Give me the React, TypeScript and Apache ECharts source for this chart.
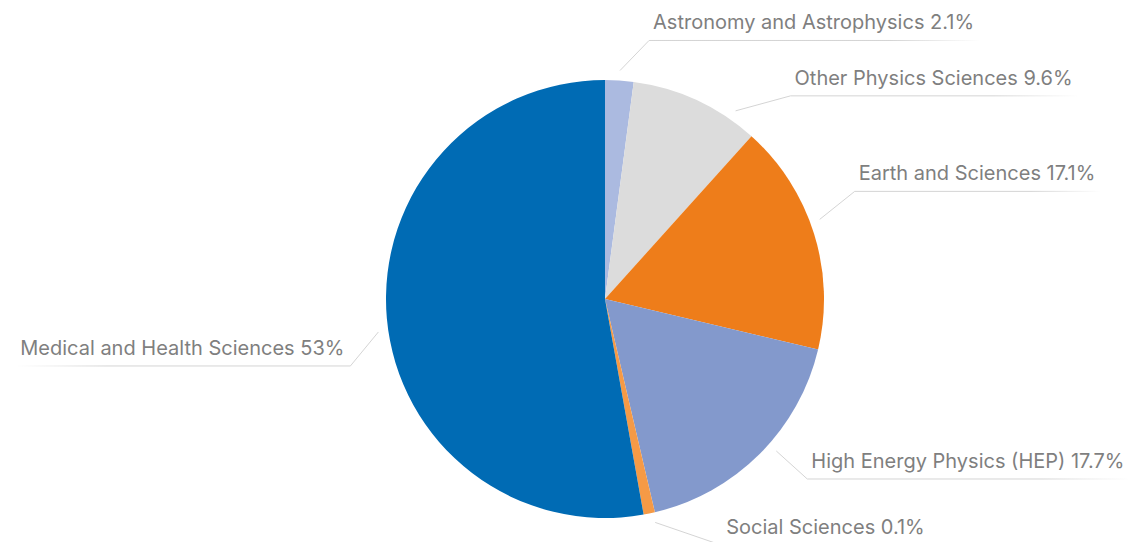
import React, { useEffect, useRef } from "react";
import * as echarts from "echarts";

const categories = [
  "Astronomy and Astrophysics",
  "Other Physics Sciences",
  "Earth and Sciences",
  "High Energy Physics (HEP)",
  "Social Sciences",
  "Medical and Health Sciences",
];
const values = [2.1, 9.6, 17.1, 17.7, 0.1, 53];
const colors = ["#abbae0", "#dcdcdc", "#ee7d1a", "#8399cc", "#f59a46", "#006bb4"];

// leader-line styling: angle shift (deg) of the start point, and bend offset to the corner
const leaders = [
  { shift: 0, dx: 29, dy: -30 },
  { shift: 10, dx: 55, dy: -15 },
  { shift: -3, dx: 35, dy: -28 },
  { shift: -3.5, dx: 31, dy: 28 },
  { shift: -1, dx: 67, dy: 23 },
  { shift: -3.2, dx: -28, dy: 34 },
];

const CX = 605;
const CY = 299;
const R = 219;
const GAP = 10;
const VIEW_LEFT = -200;
const VIEW_TOP = -100;

function lineGradient(right: boolean) {
  const c = "#d4d4d4";
  const t = "rgba(212,212,212,0)";
  return new echarts.graphic.LinearGradient(0, 0, 1, 0, right
    ? [{ offset: 0, color: c }, { offset: 0.75, color: c }, { offset: 1, color: t }]
    : [{ offset: 0, color: t }, { offset: 0.25, color: c }, { offset: 1, color: c }]);
}

export default function App() {
  const ref = useRef<HTMLDivElement>(null);
  useEffect(() => {
    if (!ref.current) return;
    const chart = echarts.init(ref.current, undefined, { renderer: "svg" });
    const data = categories.map((name, i) => ({
      name,
      value: values[i],
      itemStyle: { color: colors[i] },
      labelLine: { lineStyle: { color: lineGradient(leaders[i].dx >= 0), width: 1 } },
    }));
    chart.setOption({
      animation: false,
      backgroundColor: "#ffffff",
      series: [
        {
          type: "pie",
          left: VIEW_LEFT,
          top: VIEW_TOP,
          width: 1528,
          height: 742,
          center: [CX - VIEW_LEFT, CY - VIEW_TOP],
          radius: R,
          startAngle: 90,
          clockwise: true,
          minAngle: 3,
          avoidLabelOverlap: false,
          data,
          label: {
            show: true,
            formatter: "{b} {c}%",
            color: "#7f7f7f",
            fontFamily: "Inter",
            fontSize: 20,
            fontWeight: 400,
            overflow: "none",
          },
          labelLine: { show: true, length: 15, length2: 15 },
          labelLayout: (params: any) => {
            const i = params.dataIndex;
            const b = leaders[i];
            const p0 = params.labelLinePoints[0];
            const a0 = Math.atan2(p0[0] - CX, -(p0[1] - CY));
            const a = a0 + (b.shift * Math.PI) / 180;
            const sx = CX + (R + GAP) * Math.sin(a);
            const sy = CY - (R + GAP) * Math.cos(a);
            const kx = sx + b.dx;
            const ky = sy + b.dy;
            const w = params.labelRect.width;
            const right = b.dx >= 0;
            const ex = right ? kx + w + 10 : kx - w - 10;
            return {
              x: right ? kx + 4 : kx - 6,
              y: ky - 8,
              align: right ? "left" : "right",
              verticalAlign: "bottom",
              labelLinePoints: [
                [sx, sy],
                [kx, ky],
                [ex, ky],
              ],
            };
          },
        },
      ],
    });
    return () => chart.dispose();
  }, []);
  return (
    <div
      ref={ref}
      style={{ position: "absolute", left: 0, top: 0, width: 1128, height: 542 }}
    />
  );
}
